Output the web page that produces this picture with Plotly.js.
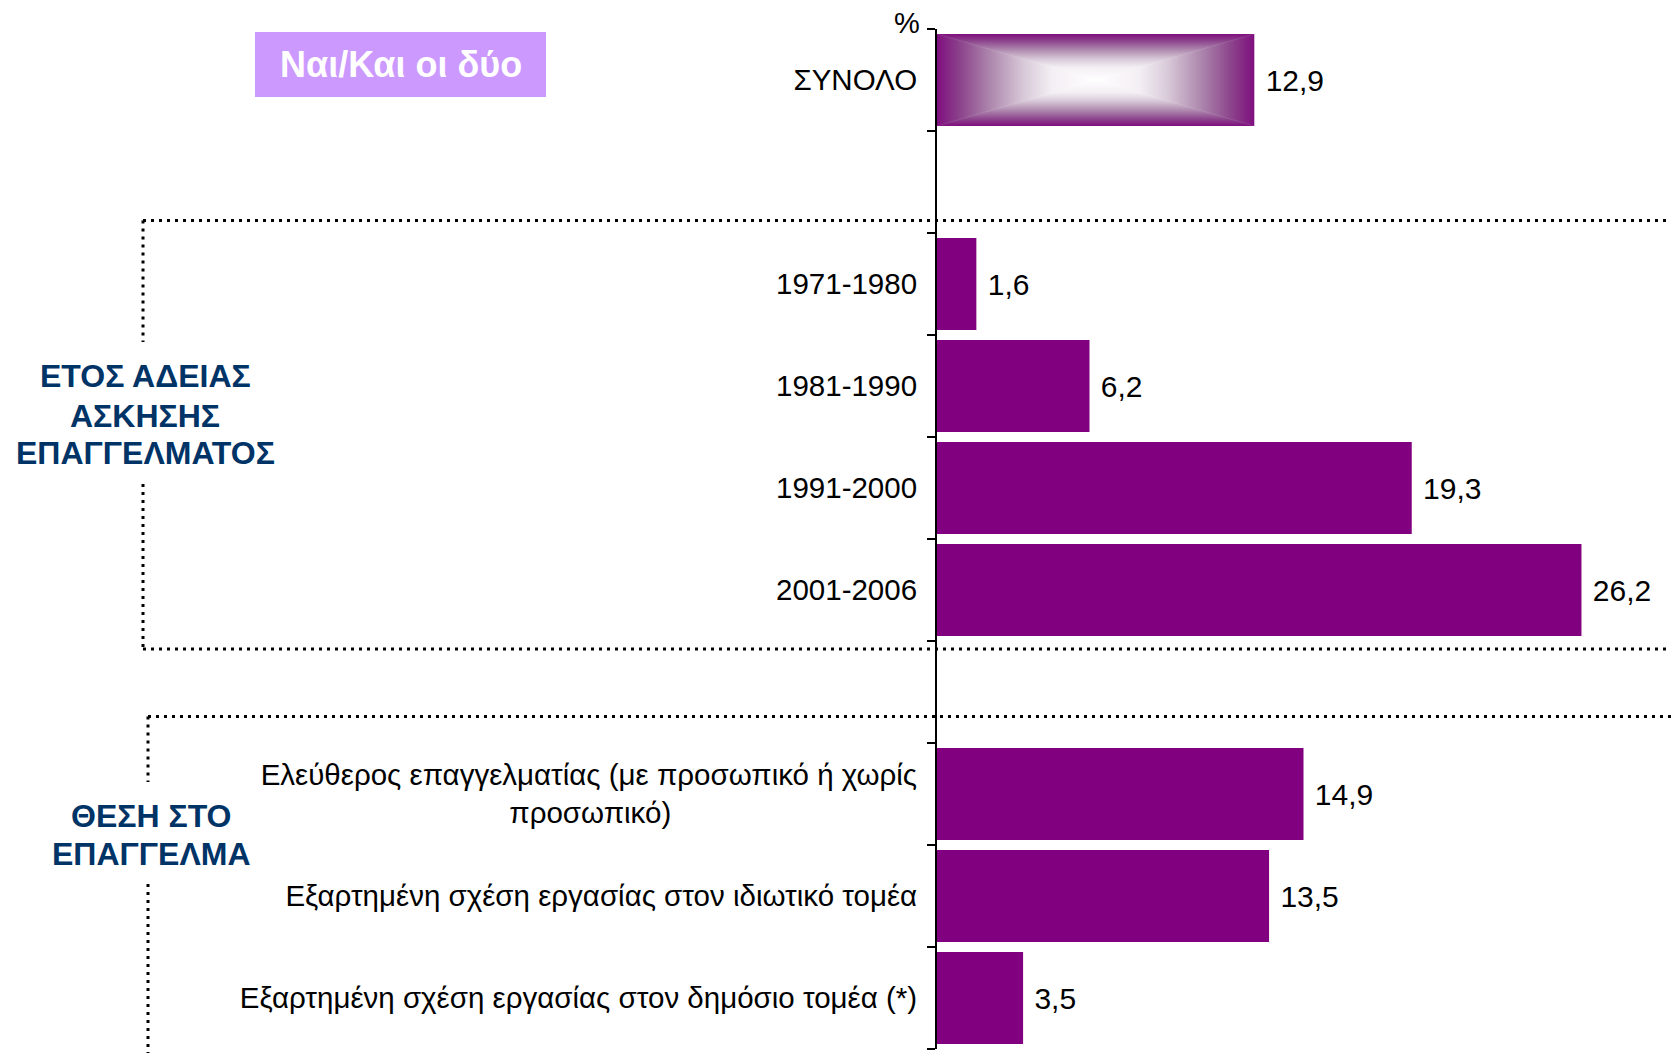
<!DOCTYPE html>
<html>
<head>
<meta charset="utf-8">
<script src="https://cdn.plot.ly/plotly-3.0.1.min.js"></script>
<style>
  html, body { margin: 0; padding: 0; background: #ffffff; }
  #chart { width: 1671px; height: 1053px; }
</style>
</head>
<body>
<div id="chart"></div>
<script>
// ---------------- data ----------------
const categories = [
  'ΣΥΝΟΛΟ',
  '',
  '1971-1980',
  '1981-1990',
  '1991-2000',
  '2001-2006',
  '',
  'Ελεύθερος επαγγελματίας (με προσωπικό ή χωρίς προσωπικό)',
  'Εξαρτημένη σχέση εργασίας στον ιδιωτικό τομέα',
  'Εξαρτημένη σχέση εργασίας στον δημόσιο τομέα (*)'
];
const values = [12.9, null, 1.6, 6.2, 19.3, 26.2, null, 14.9, 13.5, 3.5];
const tickLabels = [
  'ΣΥΝΟΛΟ',
  '',
  '1971-1980',
  '1981-1990',
  '1991-2000',
  '2001-2006',
  '',
  'Ελεύθερος επαγγελματίας (με προσωπικό ή χωρίς<br>προσωπικό)',
  'Εξαρτημένη σχέση εργασίας στον ιδιωτικό τομέα',
  'Εξαρτημένη σχέση εργασίας στον δημόσιο τομέα (*)'
];
const boxLabel = 'Ναι/Και οι δύο';
const unitLabel = '%';
const groupLabels = [['ΕΤΟΣ ΑΔΕΙΑΣ', 'ΑΣΚΗΣΗΣ', 'ΕΠΑΓΓΕΛΜΑΤΟΣ'], ['ΘΕΣΗ ΣΤΟ', 'ΕΠΑΓΓΕΛΜΑ']];

// ---------------- layout helpers ----------------
const W = 1671, H = 1053;
const L = 937, T = 29, PW = W - L, PH = 1020;
const xp = px => (px - L) / PW;
const yp = py => (T + PH - py) / PH;
const FONT = 'Arial, "Liberation Sans", sans-serif';
const PURPLE = '#800080';
const NAVY = '#003366';

const yKeys = categories.map((c, i) => c || ('gap' + i));
// pad continuation lines so that multi-line labels appear centred
const NBSP_PAD = 30;
const ticktext = tickLabels.map(t => t.split('<br>').map((ln, i) => i ? ln + '\u00a0'.repeat(NBSP_PAD) : ln).join('<br>'));

const trace = {
  type: 'bar',
  orientation: 'h',
  y: yKeys,
  x: values,
  marker: { color: PURPLE, line: { width: 0 } },
  texttemplate: '\u00a0%{x:.1f}',
  textposition: 'outside',
  constraintext: 'none',
  cliponaxis: false,
  textfont: { family: FONT, size: 30, color: '#000000' },
  hoverinfo: 'skip'
};

const dot = { color: '#000000', width: 3, dash: '3px,5px' };
const line = (x0, y0, x1, y1) => ({
  type: 'line', xref: 'paper', yref: 'paper',
  x0: xp(x0), y0: yp(y0), x1: xp(x1), y1: yp(y1), line: dot
});

// group label line positions (pixel centres)
const groupPos = [{ x: 145, ys: [376, 415.5, 453] }, { x: 151, ys: [816, 854] }];
const groupAnnotations = [];
groupLabels.forEach((lines, g) => {
  lines.forEach((txt, i) => {
    groupAnnotations.push({
      xref: 'paper', yref: 'paper', x: xp(groupPos[g].x), y: yp(groupPos[g].ys[i]),
      xanchor: 'center', yanchor: 'middle', showarrow: false,
      text: '<b>' + txt + '</b>', font: { family: FONT, size: 32, color: NAVY }
    });
  });
});

const layout = {
  width: W, height: H,
  margin: { l: L, r: 0, t: T, b: H - T - PH, pad: 0 },
  paper_bgcolor: '#ffffff',
  plot_bgcolor: '#ffffff',
  showlegend: false,
  hovermode: false,
  separators: ',.',
  bargap: 0.1,
  font: { family: FONT, size: 29.5, color: '#000000' },
  xaxis: { visible: false, range: [0, 29.84], fixedrange: true },
  yaxis: {
    type: 'category',
    categoryorder: 'array',
    categoryarray: yKeys,
    range: [9.5, -0.5],
    tickmode: 'array',
    tickvals: yKeys,
    ticktext: ticktext,
    tickson: 'boundaries',
    ticks: 'outside',
    ticklen: 8,
    tickwidth: 2,
    tickcolor: '#000000',
    showline: true,
    linewidth: 2,
    linecolor: '#000000',
    showgrid: false,
    zeroline: false,
    ticklabelstandoff: 12,
    tickfont: { family: FONT, size: 29.5, color: '#000000' },
    fixedrange: true
  },
  shapes: [
    // lavender label box
    { type: 'rect', xref: 'paper', yref: 'paper', x0: xp(255), x1: xp(546), y0: yp(97), y1: yp(32),
      fillcolor: '#CC99FF', line: { width: 0 }, layer: 'below' },
    // group 1 dotted bracket
    line(143, 220.5, W + 5, 220.5),
    line(143, 220.5, 143, 342),
    line(143, 484, 143, 649),
    line(143, 649, W + 5, 649),
    // group 2 dotted bracket
    line(148, 716.5, W + 5, 716.5),
    line(148, 716.5, 148, 782),
    line(148, 884, 148, H + 5)
  ],
  annotations: [
    { xref: 'paper', yref: 'paper', x: xp(400.5), y: yp(64.5), xanchor: 'center', yanchor: 'middle',
      text: '<b>' + boxLabel + '</b>', showarrow: false,
      font: { family: FONT, size: 36, color: '#ffffff' } },
    { xref: 'paper', yref: 'paper', x: xp(907), y: yp(23), xanchor: 'center', yanchor: 'middle',
      text: unitLabel, showarrow: false, font: { family: FONT, size: 29, color: '#000000' } }
  ].concat(groupAnnotations)
};

Plotly.newPlot('chart', [trace], layout, { staticPlot: true, displayModeBar: false }).then(gd => {
  // rectangular "from centre" gradient for the total bar
  const NS = 'http://www.w3.org/2000/svg';
  const svg = gd.querySelector('.main-svg');
  let defs = svg.querySelector('defs');
  if (!defs) { defs = document.createElementNS(NS, 'defs'); svg.insertBefore(defs, svg.firstChild); }
  const stops = [[0, '#7f0f7f'], [0.15, '#8c458c'], [0.35, '#b08cb0'], [0.55, '#d9cad9'], [0.72, '#f3eef3'], [1, '#ffffff']];
  const dirs = { t: [0, 0, 0, 1], b: [0, 1, 0, 0], l: [0, 0, 1, 0], r: [1, 0, 0, 0] };
  Object.keys(dirs).forEach(k => {
    const g = document.createElementNS(NS, 'linearGradient');
    g.setAttribute('id', 'grad_' + k);
    const d = dirs[k];
    g.setAttribute('x1', d[0]); g.setAttribute('y1', d[1]); g.setAttribute('x2', d[2]); g.setAttribute('y2', d[3]);
    stops.forEach(s => {
      const st = document.createElementNS(NS, 'stop');
      st.setAttribute('offset', s[0]); st.setAttribute('stop-color', s[1]);
      g.appendChild(st);
    });
    defs.appendChild(g);
  });
  const pat = document.createElementNS(NS, 'pattern');
  pat.setAttribute('id', 'boxgrad');
  pat.setAttribute('patternUnits', 'objectBoundingBox');
  pat.setAttribute('patternContentUnits', 'objectBoundingBox');
  pat.setAttribute('width', 1); pat.setAttribute('height', 1);
  const polys = {
    t: '0,0 1,0 0.5,0.5', b: '0,1 1,1 0.5,0.5', l: '0,0 0.5,0.5 0,1', r: '1,0 0.5,0.5 1,1'
  };
  Object.keys(polys).forEach(k => {
    const p = document.createElementNS(NS, 'polygon');
    p.setAttribute('points', polys[k]);
    p.setAttribute('fill', 'url(#grad_' + k + ')');
    p.setAttribute('stroke', 'url(#grad_' + k + ')');
    p.setAttribute('stroke-width', '0.002');
    pat.appendChild(p);
  });
  defs.appendChild(pat);
  const first = gd.querySelector('.barlayer .trace .point path');
  if (first) first.style.fill = 'url(#boxgrad)';
});
</script>
</body>
</html>
